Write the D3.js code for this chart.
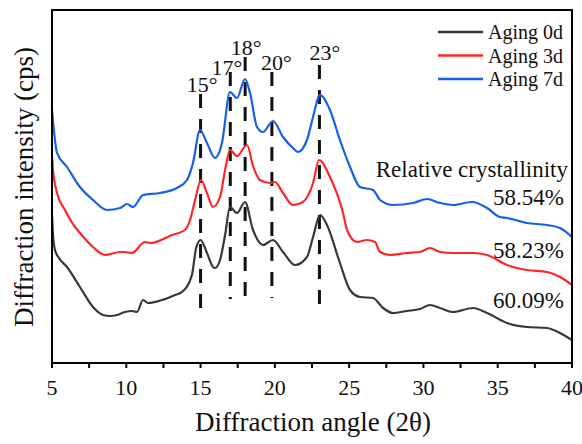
<!DOCTYPE html>
<html><head><meta charset="utf-8">
<script src="https://cdn.jsdelivr.net/npm/d3@7"></script>
<style>body{margin:0;background:#fff}svg{display:block}text{font-family:"Liberation Serif","Times New Roman",serif;fill:#111}</style>
</head><body><svg id="c" width="582" height="444"></svg>
<script>
// Diffraction angle (2θ) and intensity (arbitrary cps units)
const aging0dAngle = [5.0,5.07,5.2,5.47,6.01,6.88,7.76,8.43,8.9,9.38,9.91,10.38,10.72,11.13,11.46,12.4,13.28,13.75,14.42,14.7,15.0,15.43,15.84,15.97,16.31,16.65,16.98,17.45,17.99,18.53,19.2,19.87,20.55,21.36,22.16,22.57,23.04,23.51,24.38,25.06,25.73,26.61,27.28,27.95,28.89,29.77,30.44,31.12,31.99,33.34,34.28,35.63,36.97,38.32,39.19,40.0];
const aging0dValue = [148,128,113,105,96,76,56,48,47,48,51,52,51,63,60,63,68,71,88,115,123,110,96,95,103,128,156,150,161,133,118,123,111,98,106,126,148,138,100,73,66,65,55,50,52,54,58,55,51,55,50,40,36,35,30,23];

const aging3dAngle = [5.0,5.07,5.34,5.87,6.55,6.88,7.76,8.57,9.58,9.91,10.38,11.26,11.6,13.08,13.95,14.29,14.63,15.03,15.43,15.84,16.31,16.65,16.98,17.45,18.13,18.53,19.0,19.67,20.01,20.55,21.22,21.89,22.57,22.97,23.71,24.59,24.86,25.53,26.2,26.74,27.08,27.75,28.89,29.77,30.44,31.12,31.99,33.34,34.28,35.63,36.97,38.32,39.19,40.0];
const aging3dValue = [208,193,170,153,136,130,116,108,111,111,110,121,120,128,133,143,163,183,170,156,166,193,213,207,218,197,183,180,181,170,158,161,180,203,186,150,133,121,123,121,111,108,110,111,115,111,110,110,108,98,93,91,86,78];

const aging7dAngle = [5.0,5.34,6.01,6.88,7.76,8.7,9.58,10.05,10.45,11.13,12.27,13.41,14.09,14.49,14.96,15.43,15.97,16.44,16.98,17.45,17.99,18.33,18.8,19.2,19.87,20.55,21.22,21.56,22.16,22.57,23.04,23.71,24.38,25.06,25.73,26.61,27.08,27.95,29.3,30.24,31.12,31.99,33.27,34.28,35.15,35.63,36.97,38.32,39.19,40.0];
const aging7dValue = [253,210,196,176,163,153,155,159,156,168,170,175,183,200,233,220,205,220,271,265,284,270,236,231,242,226,215,211,223,246,268,253,223,196,176,173,163,158,160,164,160,158,161,155,146,145,140,138,135,126];

const seriesNames = ["Aging 0d","Aging 3d","Aging 7d"];
const seriesColors = ["#383838","#ff2626","#1560e6"];

const xTicks = [5,10,15,20,25,30,35,40];
const xMinorTicks = [5,7.5,10,12.5,15,17.5,20,22.5,25,27.5,30,32.5,35,37.5,40];

// peak reference lines
const peakAngle = [15,17,18,19.8,23];
const peakTop = [269,291,306,291,298];
const peakBottom = [48,64,59,65,50];
const peakLabels = ["15°","17°","18°","20°","23°"];
const peakLabelAngle = [15.1,16.78,18.06,20.11,23.37];
const peakLabelValue = [271,288,308,293,303];

const crystallinity = ["58.54%","58.23%","60.09%"];
const crystallinityValue = [158,105,55];

const svg = d3.select("#c");
const L=52,R=572,T=10,B=363;
const x = d3.scaleLinear().domain([5,40]).range([L,R]);
const y = d3.scaleLinear().domain([0,353]).range([B,T]);

const series = [
  aging0dAngle.map((a,i)=>[a,aging0dValue[i]]),
  aging3dAngle.map((a,i)=>[a,aging3dValue[i]]),
  aging7dAngle.map((a,i)=>[a,aging7dValue[i]])
];
const line = d3.line().x(d=>x(d[0])).y(d=>y(d[1])).curve(d3.curveMonotoneX);

// dashed peak lines
svg.append("g").selectAll("line").data(peakAngle).join("line")
  .attr("x1",d=>x(d)).attr("x2",d=>x(d))
  .attr("y1",(d,i)=>y(peakTop[i])).attr("y2",(d,i)=>y(peakBottom[i]))
  .attr("stroke","#111").attr("stroke-width",3).attr("stroke-dasharray","14,11");

svg.append("g").selectAll("path").data(series).join("path")
  .attr("d",line).attr("fill","none")
  .attr("stroke",(d,i)=>seriesColors[i]).attr("stroke-width",2.2)
  .attr("stroke-linejoin","round");

svg.append("g").selectAll("text").data(peakLabels).join("text")
  .attr("x",(d,i)=>x(peakLabelAngle[i])).attr("y",(d,i)=>y(peakLabelValue[i]))
  .attr("text-anchor","middle").attr("font-size",22).text(d=>d);

// frame
svg.append("rect").attr("x",L).attr("y",T).attr("width",R-L).attr("height",B-T)
  .attr("fill","none").attr("stroke","#000").attr("stroke-width",2);

// x axis
const gx = svg.append("g").attr("transform",`translate(0,${B})`);
gx.selectAll("line").data(xMinorTicks).join("line")
  .attr("x1",d=>x(d)).attr("x2",d=>x(d)).attr("y1",0).attr("y2",5)
  .attr("stroke","#000").attr("stroke-width",2);
gx.selectAll("text").data(xTicks).join("text")
  .attr("x",d=>x(d)).attr("y",32).attr("text-anchor","middle")
  .attr("font-size",22).text(d=>d);

svg.append("text").attr("x",313).attr("y",431).attr("text-anchor","middle")
  .attr("font-size",27).text("Diffraction angle (2θ)");
svg.append("text").attr("transform","translate(33,187) rotate(-90)")
  .attr("text-anchor","middle").attr("font-size",27).text("Diffraction intensity (cps)");

// legend
const lg = svg.append("g");
const order = [0,1,2];
lg.selectAll("line").data(order).join("line")
  .attr("x1",438).attr("x2",483).attr("y1",d=>32+d*23.5).attr("y2",d=>32+d*23.5)
  .attr("stroke",d=>seriesColors[d]).attr("stroke-width",2.5);
lg.selectAll("text").data(order).join("text")
  .attr("x",488).attr("y",d=>39+d*23.5).attr("font-size",20).text(d=>seriesNames[d]);

svg.append("text").attr("x",568).attr("y",177).attr("text-anchor","end")
  .attr("font-size",23).text("Relative crystallinity");
svg.append("g").selectAll("text").data(crystallinity).join("text")
  .attr("x",564).attr("y",(d,i)=>y(crystallinityValue[i])).attr("text-anchor","end")
  .attr("font-size",23).text(d=>d);
</script></body></html>
